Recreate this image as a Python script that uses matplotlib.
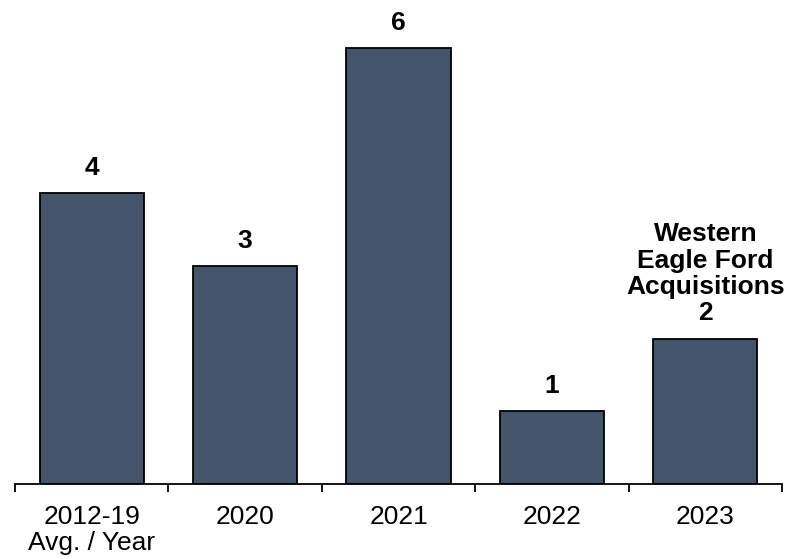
import numpy as np
import matplotlib.pyplot as plt
from matplotlib.ticker import FixedLocator

# deal counts per period
periods = ["2012-19\nAvg. / Year", "2020", "2021", "2022", "2023"]
deals = [4, 3, 6, 1, 2]
labels = ["4", "3", "6", "1", "Western\nEagle Ford\nAcquisitions\n2"]

plt.rcParams.update({"font.family": ["Liberation Sans", "DejaVu Sans"]})

fig = plt.figure(figsize=(7.91, 5.59), dpi=100)
ax = fig.add_axes([0.019, 0.1342, 0.9696, 0.858])

x = np.arange(len(deals))
bars = ax.bar(x, deals, width=0.68, color="#44546A", edgecolor="black", linewidth=1.3)

# value labels above each bar
for xi, val, lab in zip(x, deals, labels):
    ax.annotate(
        lab,
        (xi, val),
        xytext=(0, 9.5),
        textcoords="offset points",
        ha="center",
        va="bottom",
        fontsize=19,
        fontweight="bold",
        linespacing=1.13,
    )

ax.set_xlim(-0.5, len(deals) - 0.5)
ax.set_ylim(0, 6.6)

for side in ["top", "right", "left"]:
    ax.spines[side].set_visible(False)
ax.spines["bottom"].set_linewidth(1.3)
ax.set_yticks([])

# category labels at centres, tick marks between categories
ax.set_xticks(x)
ax.set_xticklabels(periods, fontsize=19, linespacing=1.13)
ax.tick_params(axis="x", which="major", length=0, pad=15)
ax.xaxis.set_minor_locator(FixedLocator(np.arange(-0.5, len(deals), 1.0)))
ax.tick_params(axis="x", which="minor", length=6, width=1.3, direction="out")

plt.savefig("out.png", dpi=100)
